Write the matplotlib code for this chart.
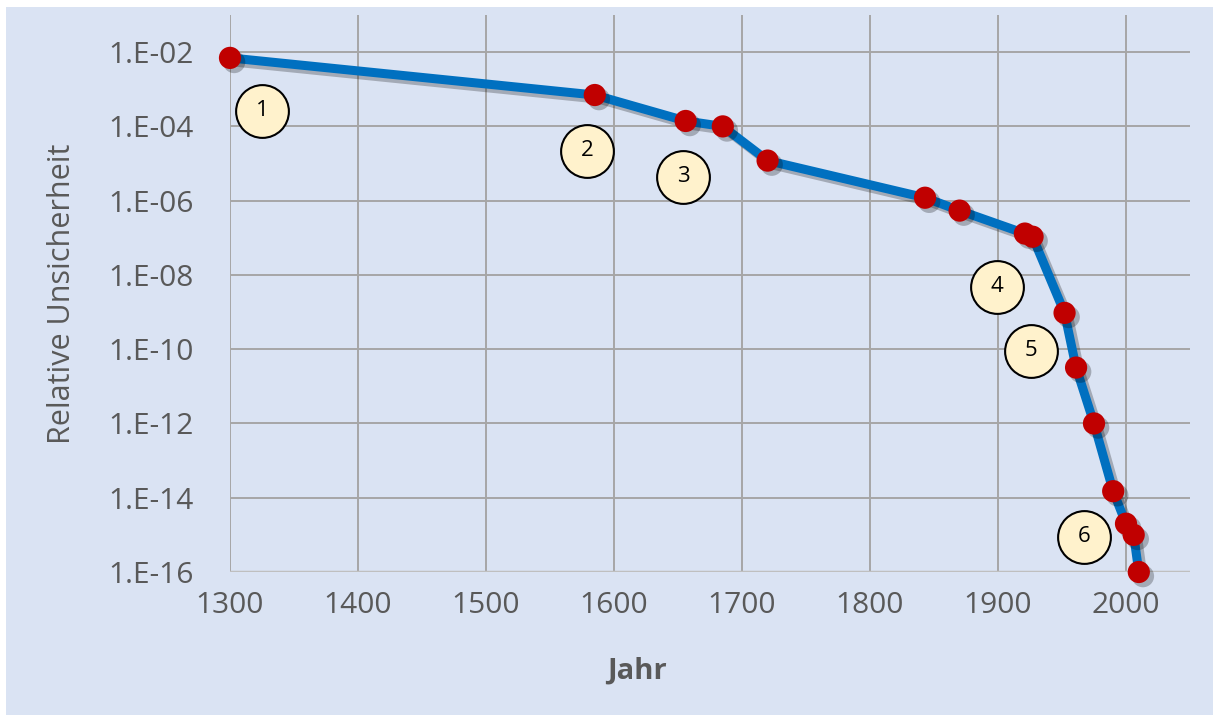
import numpy as np
import matplotlib
matplotlib.use('Agg')
import matplotlib.pyplot as plt
import matplotlib.patheffects as pe
from matplotlib.patches import Rectangle

# Jahr und relative Unsicherheit
jahr = [1300, 1585, 1656, 1685, 1720, 1843, 1870, 1921, 1927,
        1952, 1961, 1975, 1990, 2000, 2006, 2010]
unsicherheit = [7e-3, 7e-4, 1.4e-4, 1.0e-4, 1.2e-5, 1.2e-6, 5.4e-7, 1.3e-7, 1.07e-7,
                9.5e-10, 3.2e-11, 1.0e-12, 1.5e-14, 2.0e-15, 1.0e-15, 1.0e-16]

# nummerierte Markierungen
nummern = ['1', '2', '3', '4', '5', '6']
nummer_x = [1325, 1579, 1654, 1899, 1926, 1967]
nummer_y = [2.6e-4, 2.2e-5, 4.4e-6, 4.8e-9, 9.0e-11, 9.0e-16]

xticks = [1300, 1400, 1500, 1600, 1700, 1800, 1900, 2000]
yticks = [1e-2, 1e-4, 1e-6, 1e-8, 1e-10, 1e-12, 1e-14, 1e-16]
ytick_labels = ['1.E-02', '1.E-04', '1.E-06', '1.E-08', '1.E-10', '1.E-12', '1.E-14', '1.E-16']

plt.rcParams['font.family'] = ['Open Sans', 'DejaVu Sans']
grau = '#595959'
hg = '#dae3f3'

fig = plt.figure(figsize=(12.13, 7.15), dpi=100, facecolor='white')
fig.patches.append(Rectangle((6/1213, 0), 1 - 6/1213, 1 - 7/715, transform=fig.transFigure,
                             facecolor=hg, edgecolor='none', zorder=-10))

ax = fig.add_axes([230/1213, 1 - 572/715, 960/1213, 557/715])
ax.set_facecolor(hg)
ax.set_yscale('log')
ax.set_xlim(1300, 2050)
ax.set_ylim(1e-16, 1e-1)

ax.set_xticks(xticks)
ax.set_yticks(yticks)
ax.set_yticklabels(ytick_labels)
ax.yaxis.set_minor_locator(matplotlib.ticker.NullLocator())
ax.tick_params(length=0, labelsize=21.5, colors=grau)
ax.tick_params(axis='y', pad=26)
ax.tick_params(axis='x', pad=14)

for s in ax.spines.values():
    s.set_visible(False)
ax.grid(True, color='#a6a6a6', linewidth=1.4)
ax.axhline(1e-16, color='#bfbfbf', linewidth=2.5, zorder=1)
ax.set_axisbelow(True)

ax.plot(jahr, unsicherheit, color='#0070c0', linewidth=6.5, solid_capstyle='round',
        solid_joinstyle='round', zorder=3, clip_on=False,
        path_effects=[pe.SimpleLineShadow(offset=(3, -3), shadow_color='k', alpha=0.25),
                      pe.Normal()])
ax.plot(jahr, unsicherheit, 'o', color='#c00000', markersize=16, markeredgewidth=0, zorder=4,
        clip_on=False,
        path_effects=[pe.SimplePatchShadow(offset=(3, -3), shadow_rgbFace='k', alpha=0.25),
                      pe.Normal()])

ax.plot(nummer_x, nummer_y, 'o', markersize=38, markerfacecolor='#fff2cc',
        markeredgecolor='black', markeredgewidth=1.5, zorder=5, clip_on=False)
for t, x, y in zip(nummern, nummer_x, nummer_y):
    ax.text(x, y, t, ha='center', va='center', fontsize=16, color='black', zorder=6)

ax.set_xlabel('Jahr', fontsize=21, fontweight='bold', color=grau)
ax.set_ylabel('Relative Unsicherheit', fontsize=22, color=grau)
ax.xaxis.set_label_coords((637 - 230) / 960, -(671 - 572) / 557)
ax.yaxis.set_label_coords(-(230 - 62) / 960, 0.5)
ax.xaxis.label.set_va('center')
ax.yaxis.label.set_va('center')

fig.savefig('out.png', dpi=100, facecolor=fig.get_facecolor())
